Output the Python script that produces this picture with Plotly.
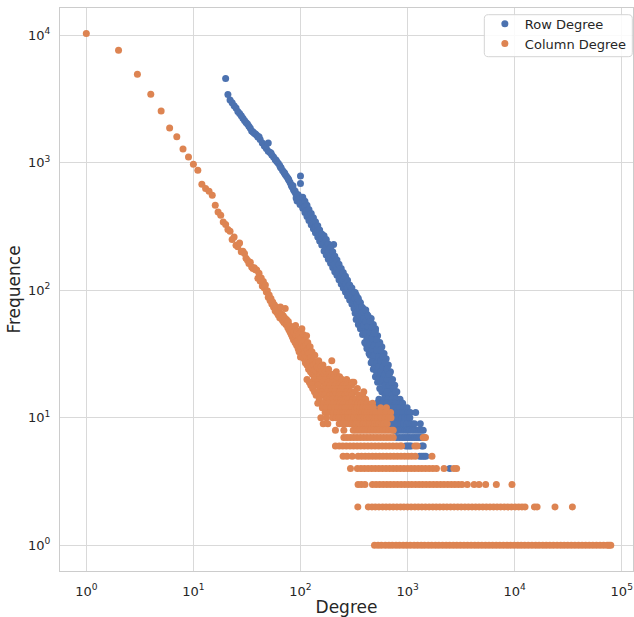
import plotly.graph_objects as go

# ---------------- Row Degree (blue) ----------------
blue_chain_deg = [20, 21, 22, 23, 24, 25, 26, 27, 28, 29, 30, 31, 32, 33, 34, 35, 36, 37, 38, 39, 40,
                  42, 44, 46, 48, 50, 52, 54, 56, 58, 60, 62, 64, 66, 68, 70, 72, 74, 76, 78, 80,
                  82, 84, 86, 88, 90, 92, 94, 96, 98, 100]
blue_chain_freq = [4580, 3430, 3100, 2950, 2800, 2690, 2520, 2430, 2330, 2230, 2140, 2070, 2010, 1930, 1860,
                   1770, 1740, 1700, 1680, 1640, 1590, 1520, 1430, 1350, 1290, 1230, 1200, 1150, 1110, 1060,
                   1020, 990, 950, 910, 870, 840, 810, 785, 760, 730, 700, 670, 645, 615, 595, 575, 555,
                   540, 520, 505, 495]

blue_extra_deg = [41, 47, 53, 59, 65, 71, 77, 83, 85, 89, 91, 93, 95, 97, 99, 50, 100, 100, 204, 502]
blue_extra_freq = [1600, 1340, 1190, 1050, 920, 830, 745, 650, 660, 600, 530, 500, 560, 520, 470, 1430, 788, 687, 228, 50]

blue_band_deg = [105, 110, 115, 120, 126, 132, 138, 145, 151, 158, 166, 174, 182, 191, 200, 209, 219, 229,
                 240, 251, 263, 275, 288, 302, 316, 331, 347, 363, 380, 398, 417, 437, 457, 479, 501, 525,
                 550, 575, 603, 631, 661, 692, 724, 759, 794,
                 324, 339, 355, 372, 389, 407, 427, 447, 468, 490, 513, 537, 562, 589, 617, 646, 676,
                 708, 741, 776]
blue_band_freqs = [
    [537, 488, 439], [498, 453, 408], [463, 421, 379], [430, 391, 352], [399, 363, 327],
    [371, 337, 303], [344, 313, 282], [320, 291, 262], [297, 270, 243], [276, 251, 226],
    [268, 233, 203], [250, 217, 189], [231, 201, 175], [215, 187, 163], [200, 174, 151],
    [185, 161, 140], [173, 150, 131], [160, 139, 121], [148, 129, 112], [138, 120, 104],
    [129, 112, 97], [120, 104, 90], [110, 96, 84], [104, 90, 78], [95, 83, 72],
    [92, 84, 77, 68, 59], [86, 78, 70, 62, 54], [80, 72, 65, 57, 50], [73, 66, 59, 52, 45],
    [70, 62, 54, 46, 39], [65, 57, 49, 42, 35], [60, 52, 45, 38, 32],
    [60, 49, 40, 33, 27], [54, 44, 36, 30, 24], [48, 39, 32, 26, 21], [44, 35, 29, 24, 19],
    [39, 32, 26, 21, 17], [36, 29, 24, 20, 16], [32, 26, 21, 17, 14], [29, 23, 19, 16, 13],
    [26, 21, 17, 14, 11], [23, 18, 15, 12, 10], [20, 16, 13, 11, 9], [18, 15, 12, 10, 8],
    [16, 13, 11, 9, 8],
    [96, 86, 74, 66], [88, 79, 68, 60], [81, 72, 63, 55], [74, 66, 58, 51], [68, 60, 53, 46],
    [70, 57, 46, 38], [63, 52, 42, 35], [57, 47, 38, 31], [51, 42, 34, 28], [46, 37, 31, 25],
    [41, 34, 27, 23], [37, 30, 25, 20], [34, 28, 23, 19], [30, 25, 20, 17], [27, 22, 18, 15],
    [24, 20, 16, 13], [22, 18, 14, 12], [19, 15, 13, 10], [17, 14, 11, 9], [16, 13, 10, 9]]

blue_row_freq = [14, 13, 12, 11, 10, 9, 8, 7, 6, 5, 4]
blue_row_degs = [
    [540, 600, 660, 720, 790, 850],
    [520, 580, 640, 700, 770, 840, 900],
    [520, 580, 640, 700, 770, 840, 920, 990],
    [540, 600, 660, 720, 790, 860, 930, 1000, 1060, 1190],
    [640, 700, 760, 820, 880, 940, 1000, 1050],
    [620, 680, 740, 800, 860, 920, 980, 1040, 1100, 1160, 1315],
    [790, 840, 890, 940, 990, 1040, 1100, 1160, 1220, 1280, 1340, 1400],
    [790, 840, 890, 940, 990, 1040, 1100, 1160, 1220, 1280, 1340],
    [960, 1000, 1040, 1080, 1360, 1400],
    [1300, 1360, 1420, 1480],
    [2480]]

# ---------------- Column Degree (orange) ----------------
orange_head_deg = list(range(1, 101))
orange_head_freq = [10300, 7620, 4940, 3440, 2540, 1870, 1600, 1280, 1110, 973,
                    874, 678, 627, 597, 556, 464, 411, 387, 343, 328,
                    299, 290, 250, 262, 225, 219, 235, 200, 202, 194,
                    178, 172, 162, 166, 152, 148, 150, 145, 144, 124,
                    136, 118, 125, 108, 117, 104, 110, 97, 99, 88,
                    92, 83, 86, 78, 81, 74, 77, 69, 74, 67,
                    72, 64, 69, 61, 74, 60, 65, 58, 63, 56,
                    61, 72, 54, 59, 55, 51, 57, 49, 53, 47,
                    52, 45, 49, 43, 50, 41, 47, 42, 39, 53,
                    44, 37, 48, 40, 35, 45, 33, 41, 46, 30]

orange_scatter_deg = [101, 102, 103, 104, 105, 106, 107, 108, 109, 110, 111, 112, 113, 114, 115, 116, 117,
                      118, 119, 120, 121, 122, 123, 124, 125, 126, 127, 128, 129, 130, 131, 132, 133, 135,
                      136, 137, 138, 140, 141, 143, 144, 145, 147, 148, 149, 151, 152, 154, 156, 158, 161,
                      162, 165, 167, 169, 173, 176, 179, 183, 187, 191, 196, 199, 205, 210, 216, 225, 232]
orange_scatter_freq = [42, 35, 50, 38, 31, 45, 36, 29, 40, 33, 27, 37, 30, 44, 26, 34, 39,
                       28, 24, 32, 29, 27, 36, 23, 30, 25, 25, 33, 22, 28, 28, 24, 26, 21,
                       31, 24, 22, 27, 23, 25, 21, 22, 24, 28, 21, 23, 24, 22, 25, 23, 21,
                       26, 22, 24, 21, 23, 22, 21, 24, 22, 21, 28, 22, 21, 22, 23, 21, 21]

orange_row_freq = [20, 19, 18, 17, 16, 15, 14, 13, 12, 11, 10, 9, 8, 7, 6, 5, 4, 3, 2, 1]
orange_row_degs = [
    [115, 134, 150, 170, 186, 200, 220, 245, 270],
    [121, 142, 160, 180, 200, 239, 265, 304, 315],
    [125, 140, 146, 172, 190, 210, 230, 250, 270, 300],
    [130, 153, 164, 184, 206, 224, 240, 256, 280, 340],
    [135, 150, 157, 178, 194, 210, 233, 255, 270, 295, 320, 390],
    [140, 157, 168, 188, 200, 212, 230, 245, 262, 276, 300, 350, 380],
    [150, 174, 190, 200, 221, 240, 255, 264, 280, 310, 330, 360, 406],
    [145, 165, 182, 203, 220, 235, 252, 270, 285, 300, 326, 345, 368, 390, 420, 470],
    [160, 175, 192, 209, 225, 242, 258, 272, 290, 305, 325, 338, 360, 382, 410, 430, 450, 480, 560, 635],
    [170, 190, 205, 218, 236, 250, 260, 275, 290, 305, 320, 340, 356, 375, 398, 420, 450, 480, 510, 560,
     620, 635, 694],
    [155, 175, 200, 215, 227, 240, 248, 260, 275, 280, 295, 315, 330, 344, 360, 375, 395, 414, 440, 465,
     480, 500, 525, 560, 580, 620, 660, 700],
    [163, 180, 230, 250, 268, 290, 300, 320, 332, 350, 362, 380, 390, 410, 422, 445, 460, 480, 495, 520,
     540, 570, 600, 645],
    [212, 254, 311, 330, 352, 375, 400, 426, 454, 484, 516, 550, 586, 624, 665, 709, 735],
    [254, 272, 292, 314, 337, 362, 389, 418, 449, 482, 518, 556, 597, 641, 688, 735, 1400, 1440, 1470],
    [212, 230, 248, 268, 290, 313, 338, 365, 394, 426, 460, 497, 537, 580, 626, 676, 730, 790, 850, 880,
     1170, 1230],
    [250, 272, 304, 345, 372, 402, 434, 469, 506, 547, 590, 638, 689, 744, 803, 868, 937, 1010, 1090,
     1180, 1690],
    [293, 340, 367, 396, 428, 462, 499, 539, 582, 629, 679, 733, 792, 855, 925, 1000, 1080, 1165, 1260,
     1360, 1470, 1590, 1720, 1860, 2190, 2710, 2870],
    [345, 370, 400, 470, 508, 548, 592, 640, 690, 745, 805, 870, 940, 1015, 1095, 1185, 1280, 1380, 1490,
     1610, 1740, 1880, 2030, 2190, 2370, 2560, 2760, 2980, 3220, 3610, 4180, 4650, 5360, 6740, 9440],
    [343, 430, 465, 500, 540, 585, 630, 680, 735, 795, 860, 925, 1000, 1080, 1170, 1260, 1360, 1470, 1590,
     1720, 1850, 2000, 2160, 2330, 2520, 2720, 2940, 3170, 3430, 3700, 4000, 4320, 4660, 5040, 5440,
     5880, 6350, 6850, 7400, 8000, 8630, 9320, 10100, 10900, 11700, 12500, 15300, 16200, 23800, 34600],
    [491, 530, 570, 620, 670, 720, 780, 840, 910, 980, 1060, 1150, 1240, 1340, 1440, 1560, 1680, 1820,
     1960, 2120, 2290, 2470, 2670, 2880, 3110, 3360, 3630, 3920, 4240, 4570, 4940, 5340, 5760, 6220,
     6720, 7260, 7840, 8470, 9140, 9880, 10700, 11500, 12400, 13400, 14500, 15700, 16900, 18300, 19700,
     21300, 23000, 24900, 26900, 29000, 31300, 33800, 36500, 39500, 42600, 46000, 49700, 53700, 58000,
     62600, 67600, 73000, 76000, 79000]]

tick_vals = [1, 10, 100, 1000, 10000, 100000]
x_tick_text = ["10<sup>0</sup>", "10<sup>1</sup>", "10<sup>2</sup>", "10<sup>3</sup>", "10<sup>4</sup>", "10<sup>5</sup>"]
y_tick_vals = [1, 10, 100, 1000, 10000]
y_tick_text = ["10<sup>0</sup>", "10<sup>1</sup>", "10<sup>2</sup>", "10<sup>3</sup>", "10<sup>4</sup>"]


def rows_to_points(freqs, degs):
    xs, ys = [], []
    for f, ds in zip(freqs, degs):
        xs.extend(ds)
        ys.extend([f] * len(ds))
    return xs, ys


def band_to_points(degs, freq_lists):
    xs, ys = [], []
    for d, fl in zip(degs, freq_lists):
        xs.extend([d] * len(fl))
        ys.extend(fl)
    return xs, ys


bx_band, by_band = band_to_points(blue_band_deg, blue_band_freqs)
bx_rows, by_rows = rows_to_points(blue_row_freq, blue_row_degs)
blue_x = blue_chain_deg + blue_extra_deg + bx_band + bx_rows
blue_y = blue_chain_freq + blue_extra_freq + by_band + by_rows

ox_rows, oy_rows = rows_to_points(orange_row_freq, orange_row_degs)
orange_x = orange_head_deg + orange_scatter_deg + ox_rows
orange_y = orange_head_freq + orange_scatter_freq + oy_rows

BLUE = "#4C72B0"
ORANGE = "#DD8452"

fig = go.Figure()
fig.add_trace(go.Scatter(x=blue_x, y=blue_y, mode="markers", name="Row Degree",
                         marker=dict(color=BLUE, size=7, line=dict(width=0))))
fig.add_trace(go.Scatter(x=orange_x, y=orange_y, mode="markers", name="Column Degree",
                         marker=dict(color=ORANGE, size=7, line=dict(width=0))))

# legend frame (rounded box) in paper coordinates
x0, x1 = 0.7405, 0.9988
y0, y1 = 0.9135, 0.9881
rx, ry = 0.007, 0.0071
legend_path = (f"M {x0+rx},{y1} L {x1-rx},{y1} Q {x1},{y1} {x1},{y1-ry} "
               f"L {x1},{y0+ry} Q {x1},{y0} {x1-rx},{y0} L {x0+rx},{y0} "
               f"Q {x0},{y0} {x0},{y0+ry} L {x0},{y1-ry} Q {x0},{y1} {x0+rx},{y1} Z")

grid_c = "#d9d9d9"
fig.update_layout(
    width=634, height=617,
    margin=dict(l=60, r=1, t=8, b=46, autoexpand=False),
    paper_bgcolor="white", plot_bgcolor="white",
    font=dict(family="DejaVu Sans", color="#262626"),
    showlegend=True,
    legend=dict(x=0.998, y=0.9988, xanchor="right", yanchor="top",
                bgcolor="rgba(0,0,0,0)", borderwidth=0,
                font=dict(size=13, color="#262626")),
    shapes=[dict(type="path", path=legend_path, xref="paper", yref="paper",
                 line=dict(color="#d4d4d4", width=1), fillcolor="rgba(255,255,255,0.85)",
                 layer="above")],
    xaxis=dict(type="log", range=[-0.2456, 5.105], tickvals=tick_vals, ticktext=x_tick_text,
               showgrid=True, gridcolor=grid_c, gridwidth=1, zeroline=False, automargin=False,
               showline=True, mirror=True, linecolor="#cccccc", linewidth=1.25,
               ticks="", tickfont=dict(size=13, color="#262626"), ticklabelstandoff=8,
               title=dict(text="Degree", font=dict(size=17, color="#262626"), standoff=6)),
    yaxis=dict(type="log", range=[-0.201, 4.213], tickvals=y_tick_vals, ticktext=y_tick_text,
               showgrid=True, gridcolor=grid_c, gridwidth=1, zeroline=False, automargin=False,
               showline=True, mirror=True, linecolor="#cccccc", linewidth=1.25,
               ticks="", tickfont=dict(size=13, color="#262626"), ticklabelstandoff=6,
               title=dict(text="Frequence", font=dict(size=17, color="#262626"), standoff=2)),
)

fig.write_html("out.html")
